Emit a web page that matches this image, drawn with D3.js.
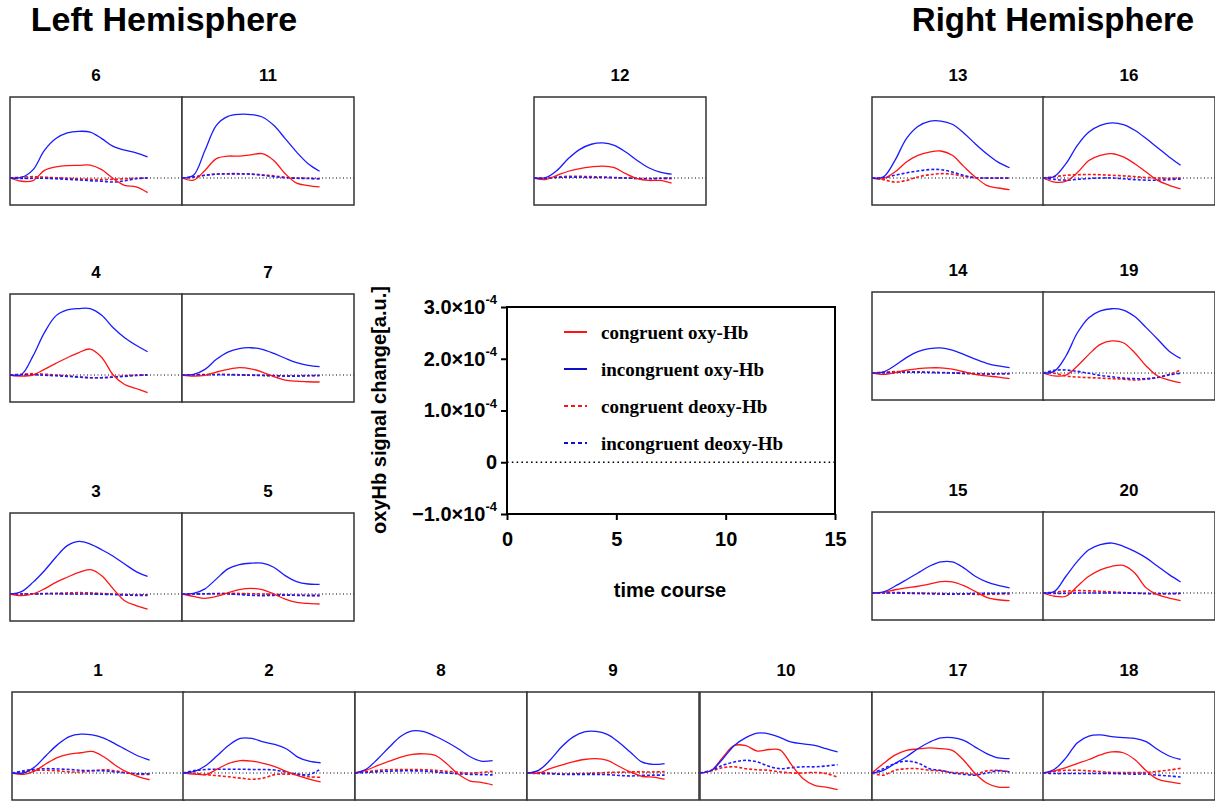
<!DOCTYPE html>
<html><head><meta charset="utf-8">
<script src="https://cdn.jsdelivr.net/npm/d3@7"></script>
<style>body{margin:0;background:#fff}svg{display:block}</style>
</head><body>
<svg id="chart" width="1215" height="803"></svg>
<script>
// ---- data (signal values in units of 1e-4 a.u.) ----
const timePoints = [0,1,2,3,4,5,6,7,8,9,10,11,12];
const panelIds = ["6","11","12","13","16","4","7","14","19","3","5","15","20","1","2","8","9","10","17","18"];

const congruentOxy = [
 [0,-0.12,-0.1,0.28,0.41,0.46,0.47,0.48,0.31,-0.02,-0.27,-0.33,-0.54],
 [0,-0.08,0.28,0.72,0.81,0.81,0.86,0.9,0.65,0.16,-0.19,-0.28,-0.33],
 [0,-0.06,0.1,0.25,0.35,0.41,0.44,0.38,0.16,-0.02,-0.09,-0.09,-0.19],
 [0,-0.02,0.22,0.59,0.84,0.96,1.0,0.84,0.43,0.04,-0.27,-0.37,-0.43],
 [0,-0.15,-0.12,0.2,0.65,0.84,0.9,0.78,0.53,0.22,-0.09,-0.27,-0.4],
 [0,-0.04,0,0.21,0.43,0.64,0.83,0.96,0.65,0,-0.35,-0.5,-0.65],
 [0,-0.04,-0.01,0.11,0.21,0.27,0.23,0.11,-0.06,-0.19,-0.23,-0.25,-0.26],
 [0,-0.05,0.01,0.11,0.16,0.19,0.19,0.14,0.05,-0.05,-0.11,-0.15,-0.21],
 [0,-0.11,-0.08,0.26,0.69,1.06,1.19,1.12,0.75,0.26,-0.11,-0.26,-0.36],
 [0,-0.06,0,0.19,0.43,0.62,0.8,0.9,0.68,0.19,-0.25,-0.43,-0.56],
 [0,-0.09,-0.16,-0.09,0.04,0.16,0.21,0.16,0,-0.19,-0.31,-0.35,-0.37],
 [0,0.02,0.12,0.19,0.25,0.33,0.42,0.41,0.27,0.06,-0.16,-0.25,-0.28],
 [0,-0.12,-0.12,0.25,0.62,0.86,0.99,1.02,0.74,0.19,-0.06,-0.19,-0.28],
 [0,-0.05,0.08,0.35,0.58,0.7,0.75,0.8,0.6,0.29,0.04,-0.13,-0.25],
 [0,-0.04,-0.06,0.15,0.36,0.46,0.44,0.36,0.24,0.06,-0.1,-0.23,-0.33],
 [0,0.11,0.28,0.44,0.59,0.69,0.71,0.65,0.34,-0.04,-0.29,-0.35,-0.44],
 [0,0,0.16,0.29,0.41,0.5,0.53,0.47,0.25,0.04,-0.12,-0.15,-0.23],
 [0,0.1,0.59,1.02,1.01,0.81,0.87,0.85,0.29,-0.21,-0.46,-0.52,-0.62],
 [0,0.35,0.66,0.84,0.89,0.93,0.9,0.84,0.47,-0.02,-0.37,-0.52,-0.52],
 [0,0.08,0.2,0.35,0.5,0.67,0.78,0.75,0.5,0.08,-0.23,-0.33,-0.39]
];
const incongruentOxy = [
 [0,0.02,0.3,1.02,1.46,1.67,1.73,1.7,1.46,1.17,1.03,0.93,0.78],
 [0,0.1,1.02,1.95,2.28,2.36,2.35,2.26,1.95,1.46,0.96,0.53,0.25],
 [0,0.01,0.28,0.72,1.06,1.25,1.3,1.21,0.96,0.65,0.38,0.22,0.14],
 [0,0.04,0.65,1.46,1.91,2.1,2.11,1.99,1.67,1.27,0.9,0.59,0.38],
 [0,0.06,0.53,1.21,1.7,1.95,2.04,1.98,1.77,1.46,1.12,0.78,0.47],
 [0,0.02,0.7,1.57,2.19,2.41,2.46,2.46,2.21,1.75,1.38,1.1,0.86],
 [0,0.02,0.21,0.58,0.85,0.98,1.01,0.95,0.8,0.62,0.46,0.36,0.31],
 [0,0.04,0.28,0.57,0.79,0.9,0.93,0.85,0.69,0.51,0.36,0.26,0.2],
 [0,0.07,0.63,1.49,2.05,2.3,2.38,2.33,2.09,1.68,1.25,0.81,0.54],
 [0,0.09,0.43,0.86,1.36,1.79,1.95,1.85,1.64,1.4,1.11,0.83,0.65],
 [0,0.02,0.19,0.56,0.93,1.09,1.14,1.14,0.99,0.68,0.46,0.37,0.36],
 [0,0.04,0.25,0.49,0.74,0.99,1.15,1.15,0.93,0.62,0.41,0.28,0.19],
 [0,0.06,0.62,1.17,1.6,1.79,1.85,1.73,1.54,1.3,0.99,0.68,0.41],
 [0,0,0.23,0.66,1.06,1.35,1.44,1.41,1.29,1.08,0.85,0.63,0.48],
 [0,0.06,0.28,0.65,1.03,1.28,1.28,1.15,1.06,0.9,0.59,0.44,0.38],
 [0,0.15,0.53,0.96,1.36,1.56,1.53,1.36,1.15,0.9,0.61,0.44,0.46],
 [0,0.1,0.47,0.96,1.33,1.52,1.54,1.43,1.14,0.78,0.41,0.32,0.35],
 [0,0.1,0.53,1.02,1.31,1.48,1.45,1.31,1.14,1.08,1.02,0.9,0.78],
 [0,0.1,0.35,0.6,0.9,1.14,1.3,1.31,1.21,0.96,0.72,0.56,0.53],
 [0,0.14,0.56,1.12,1.37,1.41,1.35,1.31,1.28,1.16,0.87,0.63,0.5]
];
const congruentDeoxy = [
 [0,0.03,0.05,0.03,0.01,-0.01,-0.03,-0.05,-0.06,-0.05,-0.03,-0.01,0],
 [0,0.03,0.1,0.15,0.16,0.16,0.15,0.12,0.08,0.03,0,-0.01,-0.03],
 [0,0,0.04,0.06,0.06,0.05,0.04,0.02,0,-0.02,-0.03,-0.02,-0.03],
 [0,-0.06,-0.15,-0.09,0.04,0.12,0.16,0.14,0.06,0.01,0,-0.01,-0.01],
 [0,0.05,0.1,0.12,0.13,0.12,0.1,0.08,0.05,0.02,0,-0.01,0],
 [0,0.03,0.05,0.03,0,-0.03,-0.07,-0.1,-0.1,-0.07,-0.03,0,0.01],
 [0,0.01,0.02,0.03,0.02,0.01,0,-0.01,-0.02,-0.03,-0.03,-0.02,-0.02],
 [0,0.03,0.05,0.05,0.04,0.03,0.02,0.01,0,-0.02,-0.03,-0.03,-0.03],
 [0,-0.01,-0.11,-0.15,-0.17,-0.19,-0.21,-0.23,-0.26,-0.23,-0.17,-0.05,0.11],
 [0,0,0.01,0.02,0.03,0.04,0.05,0.04,0.02,0,-0.02,-0.03,-0.03],
 [0,0,0.01,0.02,0.03,0.02,0.01,0,-0.01,-0.03,-0.04,-0.05,-0.05],
 [0,0.01,0.02,0.01,0,-0.01,-0.02,-0.03,-0.04,-0.05,-0.05,-0.04,-0.04],
 [0,0.03,0.07,0.09,0.08,0.06,0.04,0.02,0,-0.02,-0.03,-0.03,-0.02],
 [0,0.04,0.1,0.1,0.08,0.04,0.04,0.08,0.12,0.08,0,-0.05,-0.05],
 [0,-0.01,-0.06,-0.1,-0.14,-0.19,-0.23,-0.19,-0.06,-0.04,-0.06,-0.14,-0.16],
 [0,0.05,0.1,0.12,0.13,0.13,0.12,0.1,0.06,0.03,0,0.02,0.06],
 [0,0.02,0,-0.04,-0.03,-0.02,0,0.02,0.03,0.04,0.04,0.04,0.05],
 [0,0.08,0.2,0.23,0.16,0.12,0.1,0.04,0,0,0.02,-0.02,-0.15],
 [0,-0.08,0.1,0.16,0.16,0.1,0.08,0.02,0,-0.05,0.08,0.1,0.04],
 [0,0.06,0.1,0.1,0.08,0.05,0.02,0.02,0.02,0.02,0.06,0.11,0.17]
];
const incongruentDeoxy = [
 [0,-0.02,-0.01,-0.01,-0.03,-0.05,-0.07,-0.1,-0.12,-0.15,-0.1,-0.03,0],
 [0,0.04,0.1,0.14,0.15,0.15,0.14,0.1,0.05,0.01,-0.01,-0.02,-0.03],
 [0,-0.02,0.02,0.03,0.03,0.02,0.02,0.01,0,-0.02,-0.02,-0.01,0],
 [0,0.01,0.1,0.19,0.26,0.31,0.31,0.22,0.1,0.01,0,0,0],
 [0,-0.05,-0.08,-0.05,-0.02,0,0,-0.03,-0.06,-0.08,-0.08,-0.06,-0.04],
 [0,0,0.01,-0.01,-0.03,-0.05,-0.08,-0.1,-0.1,-0.08,-0.05,-0.02,0],
 [0,0,0.01,0.01,0.01,0,-0.01,-0.02,-0.03,-0.04,-0.04,-0.03,-0.02],
 [0,0,0.02,0.03,0.03,0.02,0.01,0,-0.02,-0.03,-0.04,-0.03,-0.02],
 [0,0.1,0.11,0.06,-0.01,-0.09,-0.14,-0.19,-0.21,-0.21,-0.16,-0.07,-0.01],
 [0,0,0,0.01,0.01,0,0,0,-0.01,-0.02,-0.04,-0.05,-0.05],
 [0,0,0.01,0.01,0,-0.02,-0.05,-0.06,-0.05,-0.04,-0.05,-0.06,-0.06],
 [0,0,0,-0.01,-0.02,-0.03,-0.04,-0.04,-0.03,-0.02,-0.01,-0.01,0],
 [0,-0.02,-0.01,0,0,0,0,0,-0.01,-0.02,-0.02,-0.02,-0.01],
 [0,0.08,0.14,0.16,0.15,0.13,0.1,0.09,0.08,0.04,0,-0.03,-0.03],
 [0,0.09,0.13,0.14,0.14,0.14,0.13,0.13,0.11,0.03,-0.04,-0.06,0.15],
 [0,0.02,0.05,0.07,0.08,0.08,0.07,0.04,0,-0.03,-0.05,-0.06,-0.07],
 [0,-0.02,-0.03,-0.05,-0.05,-0.05,-0.05,-0.06,-0.09,-0.11,-0.09,-0.08,-0.08],
 [0,0.1,0.29,0.41,0.47,0.41,0.25,0.16,0.2,0.23,0.23,0.26,0.31],
 [0,0.16,0.35,0.44,0.37,0.16,0.1,0,-0.05,-0.08,0,0.08,0.04],
 [0,-0.02,-0.02,-0.02,-0.02,-0.02,-0.02,-0.03,-0.04,-0.04,-0.08,-0.11,-0.15]
];
const xDomain = [0, 15];
const yDomain = [-1, 3];
const xTicks = [0, 5, 10, 15];
const yTicks = [-1, 0, 1, 2, 3];
const legendLabels = ["congruent oxy-Hb","incongruent oxy-Hb","congruent deoxy-Hb","incongruent deoxy-Hb"];
const hemisphereTitles = ["Left Hemisphere","Right Hemisphere"];

// ---- layout (pixel placement of panels, not data) ----
const panelLayout = [
 [10,97],[182,97],[534,97],[872,97],[1043,97],
 [10,294],[182,294],[872,292],[1043,292],
 [10,513],[182,513],[872,512],[1043,512],
 [12,692],[183,692],[355,692],[527,692],[700,692],[872,692],[1043,692]
];
const PW = 172, PH = 108;

const RED = "#ff1414", BLUE = "#1a1aff";
const seriesStyle = [
 {data: congruentOxy, color: RED, dash: null, w: 1.3},
 {data: incongruentOxy, color: BLUE, dash: null, w: 1.3},
 {data: congruentDeoxy, color: RED, dash: "3,2", w: 1.6},
 {data: incongruentDeoxy, color: BLUE, dash: "3,2", w: 1.6}
];

const svg = d3.select("#chart");
const SANS = "'Liberation Sans', Arial, sans-serif";
const SERIF = "'Liberation Serif', 'Times New Roman', serif";

// hemisphere titles
svg.append("text").attr("x", 164).attr("y", 31).attr("text-anchor","middle")
  .attr("font-family", SANS).attr("font-weight","bold").attr("font-size", 34).text(hemisphereTitles[0]);
svg.append("text").attr("x", 1053).attr("y", 31).attr("text-anchor","middle")
  .attr("font-family", SANS).attr("font-weight","bold").attr("font-size", 33).text(hemisphereTitles[1]);

// small panels
panelIds.forEach((id, i) => {
  const [px, py] = panelLayout[i];
  const x = d3.scaleLinear().domain(xDomain).range([px, px + PW]);
  const y = d3.scaleLinear().domain(yDomain).range([py + PH, py]);
  const g = svg.append("g");
  g.append("rect").attr("x", px).attr("y", py).attr("width", PW).attr("height", PH)
    .attr("fill","#fff").attr("stroke","#333").attr("stroke-width",1.5);
  g.append("text").attr("x", px + PW/2).attr("y", py - 16).attr("text-anchor","middle")
    .attr("font-family", SANS).attr("font-weight","bold").attr("font-size",17).text(id);
  g.append("line").attr("x1", x(xDomain[0])).attr("x2", x(xDomain[1]))
    .attr("y1", y(0)).attr("y2", y(0)).attr("stroke","#000").attr("stroke-width",1)
    .attr("stroke-dasharray","1,2.5");
  const line = d3.line().x((d,k) => x(timePoints[k])).y(d => y(d)).curve(d3.curveCatmullRom.alpha(0.5));
  [2,3,0,1].forEach(s => {
    const st = seriesStyle[s];
    g.append("path").attr("d", line(st.data[i])).attr("fill","none")
      .attr("stroke", st.color).attr("stroke-width", st.w)
      .attr("stroke-dasharray", st.dash);
  });
});

// central reference axes
const cx = d3.scaleLinear().domain(xDomain).range([507, 835]);
const cy = d3.scaleLinear().domain(yDomain).range([514, 307]);
const cg = svg.append("g");
cg.append("rect").attr("x", 507).attr("y", 307).attr("width", 328).attr("height", 207)
  .attr("fill","none").attr("stroke","#000").attr("stroke-width",2);
cg.append("line").attr("x1", cx(0)).attr("x2", cx(15)).attr("y1", cy(0)).attr("y2", cy(0))
  .attr("stroke","#000").attr("stroke-width",1.6).attr("stroke-dasharray","1.6,3.2");

const xAxis = cg.append("g").attr("transform","translate(0,514)")
  .call(d3.axisBottom(cx).tickValues(xTicks).tickSize(6).tickPadding(8).tickFormat(d3.format("d")));
const yAxis = cg.append("g").attr("transform","translate(507,0)")
  .call(d3.axisLeft(cy).tickValues(yTicks).tickSize(6).tickPadding(4));
[xAxis, yAxis].forEach(a => {
  a.select(".domain").remove();
  a.selectAll(".tick line").attr("stroke","#000").attr("stroke-width",2);
  a.selectAll("text").attr("font-family", SANS).attr("font-weight","bold").attr("font-size",20).attr("fill","#000");
});
xAxis.selectAll("text").attr("dy","0.9em");
yAxis.selectAll(".tick text").each(function(d){
  const t = d3.select(this);
  t.text("");
  if (d === 0) { t.text("0"); return; }
  t.append("tspan").text(d3.format(".1f")(d) + "\u00d710");
  t.append("tspan").attr("font-size",13).attr("dy","-0.75em").text("-4");
});

// axis titles
svg.append("text").attr("transform","translate(386,410) rotate(-90)").attr("text-anchor","middle")
  .attr("font-family", SANS).attr("font-weight","bold").attr("font-size",20).text("oxyHb signal change[a.u.]");
svg.append("text").attr("x", 670).attr("y", 597).attr("text-anchor","middle")
  .attr("font-family", SANS).attr("font-weight","bold").attr("font-size",20).text("time course");

// legend
const legY = d3.scalePoint().domain(legendLabels).range([332, 443]);
legendLabels.forEach((lab, k) => {
  const st = seriesStyle[k];
  svg.append("line").attr("x1",564).attr("x2",587).attr("y1",legY(lab)).attr("y2",legY(lab))
    .attr("stroke", k % 2 ? "#1010c8" : RED).attr("stroke-width",2).attr("stroke-dasharray", st.dash ? "4,3" : null);
  svg.append("text").attr("x",601).attr("y",legY(lab)).attr("dy","0.35em")
    .attr("font-family", SERIF).attr("font-weight","bold").attr("font-size",19).text(lab);
});
</script>
</body></html>
